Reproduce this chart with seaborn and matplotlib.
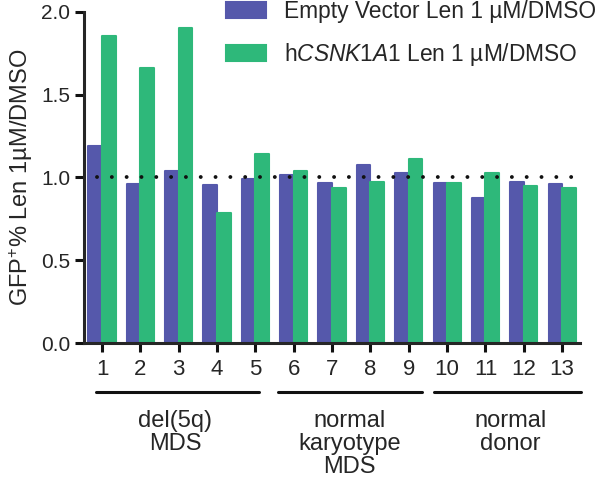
import pandas as pd
import matplotlib.pyplot as plt
import matplotlib.transforms as mtransforms
import seaborn as sns

samples = [str(i) for i in range(1, 14)]
empty_vector = [1.19, 0.96, 1.04, 0.955, 0.99, 1.015, 0.965, 1.075, 1.03, 0.965, 0.875, 0.97, 0.96]
csnk1a1 = [1.855, 1.66, 1.905, 0.785, 1.14, 1.04, 0.935, 0.97, 1.11, 0.965, 1.03, 0.95, 0.935]
series_names = ['Empty Vector Len 1 µM/DMSO', 'h$\\it{CSNK1A1}$ Len 1 µM/DMSO']
groups = ['del(5q)\nMDS', 'normal\nkaryotype\nMDS', 'normal\ndonor']
group_spans = [(-0.15, 4.1), (4.6, 8.35), (8.65, 12.5)]
group_centers = [1.9, 6.45, 10.65]

df = pd.DataFrame({
    'sample': samples * 2,
    'value': empty_vector + csnk1a1,
    'series': [series_names[0]] * 13 + [series_names[1]] * 13,
})

sns.set_style('ticks')
plt.rcParams['font.family'] = ['Liberation Sans', 'DejaVu Sans']
plt.rcParams['mathtext.fontset'] = 'custom'
plt.rcParams['mathtext.it'] = 'Liberation Sans:italic'
plt.rcParams['mathtext.rm'] = 'Liberation Sans'

fig = plt.figure(figsize=(6, 4.78), dpi=100)
ax = fig.add_axes([0.14, 0.2824, 0.827, 0.6926])

sns.barplot(data=df, x='sample', y='value', hue='series', order=samples,
            palette=['#5558AB', '#2EB87A'], saturation=1, width=0.71, gap=0,
            ax=ax)

# slightly rounded bar corners
for p in ax.patches:
    p.set_edgecolor(p.get_facecolor())
    p.set_linewidth(1.5)
    p.set_joinstyle('round')

# dotted reference line at 1.0
ax.plot([-0.13, 12.37], [1, 1], color='#111111', lw=2.8,
        ls=(0, (0.01, 3.80)), dash_capstyle='round', zorder=5)

ax.set_ylim(0, 2.0)
ax.set_xlim(-0.47, 12.47)
ax.set_yticks([0, 0.5, 1.0, 1.5, 2.0])
ax.set_yticklabels(['0.0', '0.5', '1.0', '1.5', '2.0'])
ax.set_xlabel('')
ax.set_ylabel('GFP$^{+}$% Len 1µM/DMSO', fontsize=17, labelpad=4)

for s in ['top', 'right']:
    ax.spines[s].set_visible(False)
for s in ['left', 'bottom']:
    ax.spines[s].set_linewidth(2.2)
    ax.spines[s].set_zorder(6)
ax.tick_params(axis='both', width=2.2, length=6.5, labelsize=15, color='#111111')
ax.tick_params(axis='x', labelsize=16, pad=5)

# group brackets under the axis
trans = mtransforms.blended_transform_factory(ax.transData, ax.transAxes)
for name, (x0, x1), xc in zip(groups, group_spans, group_centers):
    ax.plot([x0, x1], [-0.148, -0.148], color='#111111', lw=2.2,
            transform=trans, clip_on=False)
    ax.text(xc, -0.203, name, transform=trans, ha='center', va='top',
            fontsize=17, linespacing=1.05)

handles, labels = ax.get_legend_handles_labels()
ax.legend(handles, labels, loc='upper left', bbox_to_anchor=(226 / 600, 1.0),
          bbox_transform=fig.transFigure, frameon=False, fontsize=16.4,
          handlelength=1.75, handleheight=0.7, handletextpad=0.8,
          labelspacing=0.8, borderpad=0, borderaxespad=0)

fig.savefig('out.png', dpi=100)
